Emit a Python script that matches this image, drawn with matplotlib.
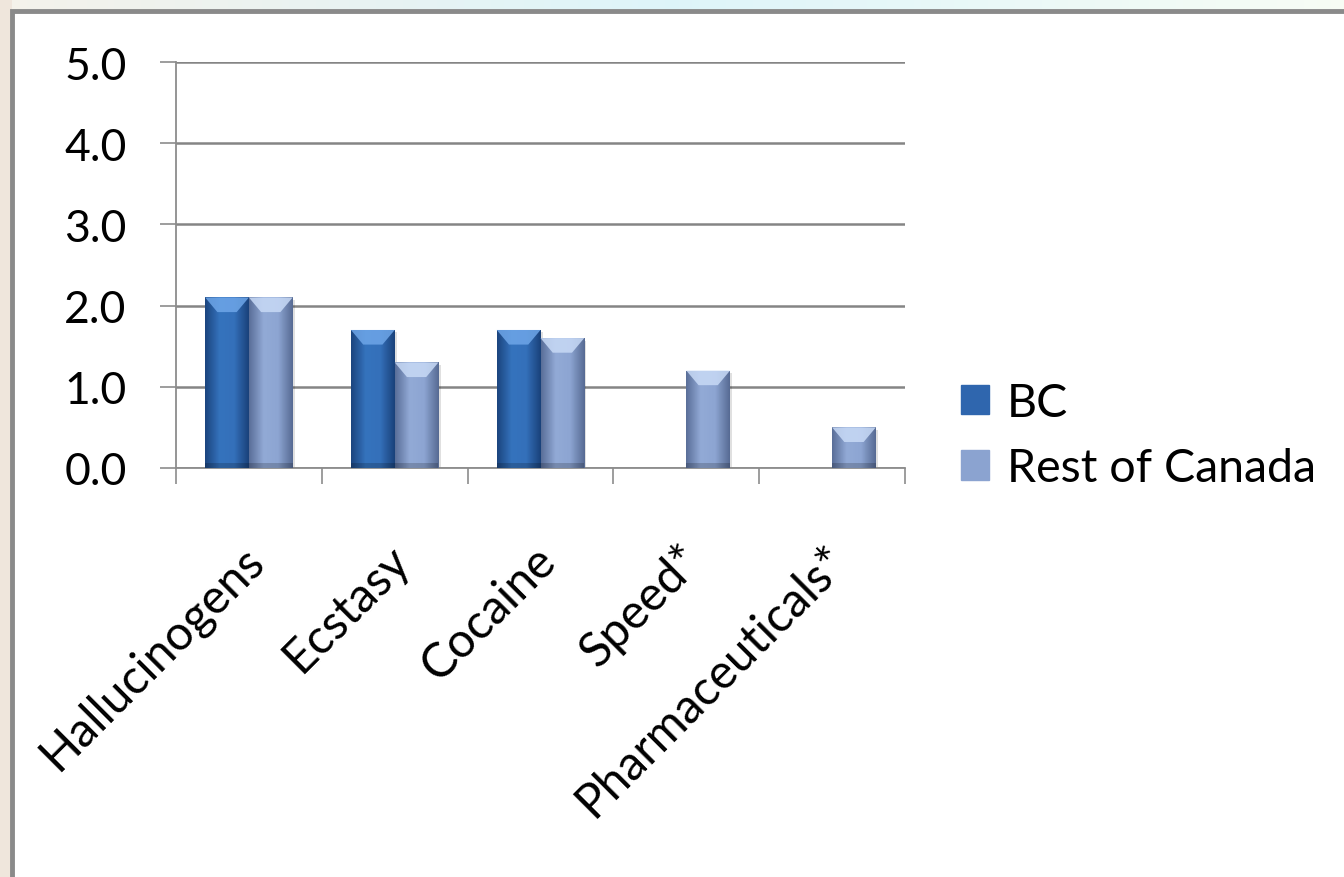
import numpy as np
import matplotlib
matplotlib.use("Agg")
import matplotlib.pyplot as plt
from matplotlib.patches import Rectangle, Polygon
from matplotlib.colors import LinearSegmentedColormap

categories = ["Hallucinogens", "Ecstasy", "Cocaine", "Speed*", "Pharmaceuticals*"]
bc = [2.1, 1.7, 1.7, 0.0, 0.0]
rest_of_canada = [2.1, 1.3, 1.6, 1.2, 0.5]
series_names = ["BC", "Rest of Canada"]
yticks = [0.0, 1.0, 2.0, 3.0, 4.0, 5.0]

plt.rcParams['font.family'] = ['Lato', 'DejaVu Sans']

W, H = 1344, 878
fig = plt.figure(figsize=(W / 100, H / 100), dpi=100)

# background gradient
bg = fig.add_axes([0, 0, 1, 1], zorder=-10)
bg.set_axis_off()
gx = np.linspace(0, 1, 200)
grad = np.zeros((2, 200, 3))
c_left = np.array([0.96, 0.95, 0.92])
c_mid = np.array([0.87, 0.96, 0.98])
c_right = np.array([0.97, 0.99, 0.96])
for i, t in enumerate(gx):
    if t < 0.5:
        c = c_left + (c_mid - c_left) * (t / 0.5)
    else:
        c = c_mid + (c_right - c_mid) * ((t - 0.5) / 0.5)
    grad[:, i] = c
bg.imshow(grad, extent=[0, 1, 0, 1], aspect='auto', transform=bg.transAxes)
bg.add_patch(Rectangle((0, 0), 12 / W, 1, transform=bg.transAxes,
                       facecolor='#EFE6DC', edgecolor='none'))
bg.add_patch(Rectangle((12 / W, -0.1), 1.2, (H - 12) / H + 0.1,
                       transform=bg.transAxes, facecolor='white',
                       edgecolor='#8A8A8A', linewidth=3.5))
bg.set_xlim(0, 1)
bg.set_ylim(0, 1)

ax = fig.add_axes([176 / W, (H - 469) / H, (905 - 176) / W, (469 - 63) / H])
ax.set_facecolor('none')

x = np.arange(len(categories))
bw = 0.3
bars_bc = ax.bar(x - bw / 2, bc, bw, color='#2F66AE', zorder=3, label=series_names[0])
bars_rc = ax.bar(x + bw / 2, rest_of_canada, bw, color='#8BA3D0', zorder=3, label=series_names[1])

cm_bc = LinearSegmentedColormap.from_list('bc', ['#1B457F', '#3573BD', '#3470BA', '#1A427B'])
cm_rc = LinearSegmentedColormap.from_list('rc', ['#5A6F99', '#92AAD6', '#8DA5D2', '#576B94'])
top_bc = '#6EA6E8'
top_rc = '#C8DAF6'

def shade(bars, cmap, topcol):
    for b in bars:
        x0, y0 = b.get_x(), b.get_y()
        w, h = b.get_width(), b.get_height()
        if h <= 0:
            continue
        # shadow
        ax.add_patch(Rectangle((x0 + 0.015, y0), w, h - 0.03, facecolor='#000000',
                               alpha=0.12, edgecolor='none', zorder=2.5))
        g = np.linspace(0, 1, 64).reshape(1, -1)
        im = ax.imshow(g, cmap=cmap, extent=[x0, x0 + w, y0, y0 + h],
                       aspect='auto', zorder=3.1)
        im.set_clip_path(b)
        bh = min(0.18, h * 0.5)
        inset = w * 0.28
        ax.add_patch(Polygon([(x0, y0 + h), (x0 + w, y0 + h),
                              (x0 + w - inset, y0 + h - bh), (x0 + inset, y0 + h - bh)],
                             closed=True, facecolor=topcol, edgecolor='none',
                             alpha=0.85, zorder=3.2))
        ax.add_patch(Rectangle((x0, y0), w, 0.06, facecolor='#000000', alpha=0.18,
                               edgecolor='none', zorder=3.3))

shade(bars_bc, cm_bc, top_bc)
shade(bars_rc, cm_rc, top_rc)

ax.set_xlim(-0.5, len(categories) - 0.5)
ax.set_ylim(0, 5)
ax.set_yticks(yticks)
ax.set_yticklabels([f"{v:.1f}" for v in yticks])
ax.yaxis.grid(True, color='#858585', linewidth=1.8, zorder=0)
ax.set_axisbelow(True)

for s in ['top', 'right']:
    ax.spines[s].set_visible(False)
for s in ['left', 'bottom']:
    ax.spines[s].set_color('#8C8C8C')
    ax.spines[s].set_linewidth(1.3)

ax.set_xticks(np.arange(len(categories) + 1) - 0.5, minor=False)
ax.set_xticklabels([])
ax.tick_params(axis='x', direction='out', length=11.5, width=1.2, color='#8C8C8C')
ax.tick_params(axis='y', direction='out', length=11.5, width=1.2, color='#8C8C8C',
               labelsize=32, pad=24)

for i, lab in enumerate(categories):
    ax.annotate(lab, xy=(i, 0), xycoords='data', xytext=(8, -84),
                textcoords='offset pixels', rotation=45, rotation_mode='anchor',
                ha='right', va='center', fontsize=34.5, annotation_clip=False)

leg = ax.legend(loc='center left', bbox_to_anchor=(766 / 729, 0.08),
                frameon=False, fontsize=33.5, handlelength=0.6, handleheight=0.6,
                handletextpad=0.4, labelspacing=0.5, borderaxespad=0)
leg.legend_handles[0].set_color('#2F66AE')
leg.legend_handles[1].set_color('#8BA3D0')

fig.savefig("out.png", dpi=100)
